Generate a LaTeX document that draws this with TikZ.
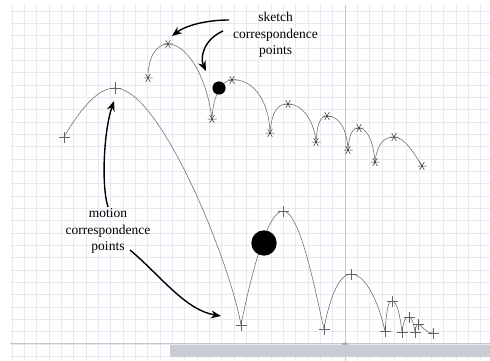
\documentclass[tikz,border=0pt]{standalone}
\usepackage{fontspec}
\newfontfamily\notefont{Liberation Serif}
\usetikzlibrary{arrows.meta}
\definecolor{gridc}{RGB}{232,233,240}
\definecolor{axisc}{RGB}{196,198,210}
\definecolor{barc}{RGB}{201,203,213}
\definecolor{curvec}{RGB}{115,115,115}
\definecolor{skc}{RGB}{60,60,60}
\definecolor{mvc}{RGB}{95,102,102}
\definecolor{tickc}{RGB}{185,150,140}
\tikzset{
  gridline/.style={gridc, line width=0.7pt},
  trail/.style={curvec, line width=0.6pt},
  skmark/.style={skc, line width=0.5pt},
  mvmark/.style={mvc, line width=0.6pt},
  callout/.style={line width=1.4pt, -{Stealth[length=10pt,width=8pt]}},
  notetext/.style={align=center, inner sep=1pt, font=\notefont\fontsize{13.5}{16.5}\selectfont}
}
\begin{document}
\begin{tikzpicture}[x=1pt,y=-1pt]
  \useasboundingbox (0,0) rectangle (490,361);
  \fill[white] (0,0) rectangle (490,361);
  \foreach \i in {0,...,38}
  {
    \pgfmathsetmacro{\gx}{12+12.33*\i}
    \draw[gridline] (\gx,5) -- (\gx,361);
  }
  \foreach \j in {0,...,28}
  {
    \pgfmathsetmacro{\gy}{11+12.33*\j}
    \draw[gridline] (10,\gy) -- (490,\gy);
  }
  \draw[axisc, line width=0.9pt] (345,5) -- (345,361);
  \draw[axisc, line width=0.9pt] (10,343.8) -- (490,343.8);
  \fill[barc] (170,345) rectangle (490,357);
  \fill[tickc] (342,344.5) arc (180:360:3 and 2) -- cycle;

  % sketch trail
  \coordinate (s1) at (148,78);
  \coordinate (s2) at (168,44);
  \coordinate (s3) at (212,119);
  \coordinate (s4) at (232,80);
  \coordinate (s5) at (270,133);
  \coordinate (s6) at (288,104);
  \coordinate (s7) at (316,142);
  \coordinate (s8) at (327,116);
  \coordinate (s9) at (348,150);
  \coordinate (s10) at (359,128);
  \coordinate (s11) at (375,162);
  \coordinate (s12) at (394,137);
  \coordinate (s13) at (422,166);
  \draw[trail] (s1) .. controls (148,56) and (157,44) .. (s2)
    .. controls (185,44) and (206,72) .. (s3)
    .. controls (213,95) and (222,80) .. (s4)
    .. controls (250,78) and (269,97) .. (s5)
    .. controls (272,110) and (278,104) .. (s6)
    .. controls (302,104) and (314,120) .. (s7)
    .. controls (317,125) and (320,116) .. (s8)
    .. controls (340,116) and (347,130) .. (s9)
    .. controls (349,135) and (352,128) .. (s10)
    .. controls (368,128) and (374,145) .. (s11)
    .. controls (377,145) and (383,137) .. (s12)
    .. controls (405,137) and (415,155) .. (s13);
  \foreach \i in {1,...,13}
    \draw[skmark] (s\i) +(-4.5,0) -- +(4.5,0) +(-2.3,-3.9) -- +(2.3,3.9) +(-2.3,3.9) -- +(2.3,-3.9);
  \fill (219,88) circle (6.6);

  % motion trail
  \coordinate (m1) at (64,137);
  \coordinate (m2) at (115,88);
  \coordinate (m3) at (241,325);
  \coordinate (m4) at (283,211);
  \coordinate (m5) at (324,329);
  \coordinate (m6) at (351,274);
  \coordinate (m7) at (385,331);
  \coordinate (m8) at (392,301);
  \coordinate (m9) at (402,332);
  \coordinate (m10) at (409,317);
  \coordinate (m11) at (415,332);
  \coordinate (m12) at (418,324);
  \coordinate (m13) at (433,333);
  \draw[trail] (m1) .. controls (80,110) and (97,88) .. (m2)
    .. controls (160,88) and (230,262) .. (m3)
    .. controls (252,270) and (268,211) .. (m4)
    .. controls (300,211) and (315,290) .. (m5)
    .. controls (330,295) and (340,274) .. (m6)
    .. controls (365,274) and (378,300) .. (m7)
    .. controls (387,305) and (389,301) .. (m8)
    .. controls (397,301) and (400,315) .. (m9)
    .. controls (404,318) and (406,317) .. (m10)
    .. controls (412,317) and (414,325) .. (m11)
    .. controls (416,326) and (417,324) .. (m12)
    .. controls (421,324) and (425,333) .. (m13);
  \foreach \i in {1,...,13}
    \draw[mvmark] (m\i) +(-5.5,0) -- +(5.5,0) +(0,-5.5) -- +(0,5.5);
  \fill (264,243) circle (12.7);

  % labels and callouts
  \node[notetext] (sklabel) at (275.5,35) {sketch\\correspondence\\points};
  \node[notetext] (mvlabel) at (108,231) {motion\\correspondence\\points};
  \coordinate (ska) at (229,20);
  \coordinate (skb) at (223,31);
  \coordinate (mva) at (108,207);
  \coordinate (mvb) at (130,250);
  \coordinate (skta) at (172,36);
  \coordinate (sktb) at (206,71);
  \coordinate (mvta) at (114,101);
  \coordinate (mvtb) at (221,316);
  \draw[callout] (ska) .. controls (205,20) and (185,26) .. (skta);
  \draw[callout] (skb) .. controls (203,40) and (200,58) .. (sktb);
  \draw[callout] (mva) .. controls (101,185) and (104,130) .. (mvta);
  \draw[callout] (mvb) .. controls (160,275) and (185,310) .. (mvtb);
\end{tikzpicture}
\end{document}
